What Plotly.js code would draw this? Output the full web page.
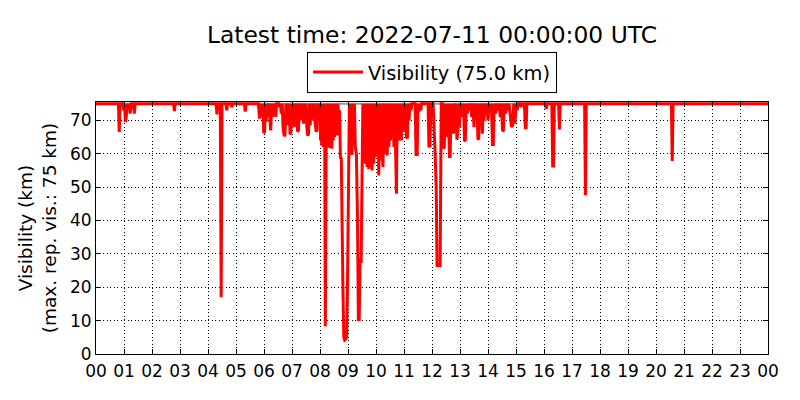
<!DOCTYPE html>
<html>
<head>
<meta charset="utf-8">
<script src="https://cdn.plot.ly/plotly-3.0.1.min.js"></script>
<style>html,body{margin:0;padding:0;background:#fff;}#chart{width:800px;height:400px;}</style>
</head>
<body>
<div id="chart"></div>
<script>
const chartTitle = "Latest time: 2022-07-11 00:00:00 UTC";
const seriesName = "Visibility (75.0 km)";
const maxReportedVis = 75;
const hourTicks = [0,1,2,3,4,5,6,7,8,9,10,11,12,13,14,15,16,17,18,19,20,21,22,23,24];
const hourTickLabels = ["00","01","02","03","04","05","06","07","08","09","10","11","12","13","14","15","16","17","18","19","20","21","22","23","00"];
const visTicks = [0,10,20,30,40,50,60,70];

const timeHours = [
 0.00,0.80,0.83,0.86,0.96,0.99,1.02,1.05,1.08,1.11,1.15,1.18,1.22,1.26,1.34,1.37,1.40,
 2.77,2.80,2.83,4.29,4.32,4.35,4.44,4.47,4.50,4.64,4.67,4.70,4.82,4.85,4.88,5.30,5.33,5.36,5.80,
 5.84,5.88,5.92,5.96,5.99,6.02,6.05,6.08,6.11,6.14,6.17,6.21,6.24,6.27,6.30,6.33,6.36,6.39,6.42,6.45,6.52,6.55,6.58,6.62,6.65,6.68,6.72,6.75,6.78,6.81,6.84,6.87,6.90,6.93,6.96,6.99,
 7.02,7.05,7.08,7.11,7.14,7.17,7.20,7.23,7.26,7.29,7.32,7.35,7.38,7.41,7.44,7.47,7.50,7.53,7.56,7.59,7.62,7.65,7.68,7.71,7.74,7.77,7.80,7.83,7.86,7.89,7.92,7.95,7.98,
 8.00,8.02,8.04,8.06,8.09,8.11,8.14,8.17,8.19,8.22,8.25,8.27,8.30,8.32,8.35,8.37,8.40,8.42,8.45,8.47,8.50,8.52,8.55,8.58,8.61,8.64,8.67,8.70,8.73,8.76,8.79,8.82,8.85,8.88,8.92,8.95,8.98,9.01,9.05,
 9.08,9.11,9.14,9.17,9.20,9.23,9.26,9.30,9.34,9.37,9.40,9.43,9.47,9.50,9.53,9.56,9.59,9.62,9.65,9.68,9.71,9.74,9.77,9.80,9.83,9.86,9.89,9.92,9.95,9.98,10.01,
 10.04,10.07,10.10,10.13,10.16,10.19,10.22,10.25,10.28,10.31,10.34,10.37,10.40,10.43,10.46,10.49,10.52,10.55,10.58,10.61,10.64,10.67,10.70,10.73,10.76,10.79,10.82,10.85,10.88,10.91,10.94,10.97,11.00,
 11.03,11.06,11.09,11.12,11.15,11.18,11.21,11.25,11.28,11.40,11.43,11.47,11.50,11.53,11.57,11.60,11.63,11.86,11.89,11.93,11.96,12.04,12.08,12.12,12.15,12.18,12.24,12.29,12.33,
 12.38,12.41,12.44,12.47,12.50,12.53,12.56,12.59,12.62,12.65,12.68,12.71,12.74,12.77,12.80,12.83,12.86,12.89,12.92,12.95,12.98,13.01,13.04,13.07,13.10,13.13,13.16,13.19,13.22,13.26,13.30,13.34,13.38,13.42,13.46,
 13.50,13.53,13.57,13.60,13.64,13.67,13.70,13.73,13.76,13.80,13.83,13.86,13.89,13.93,13.96,14.00,14.03,14.08,14.12,14.16,14.19,14.22,14.27,14.31,14.36,14.40,14.44,14.48,
 14.52,14.55,14.58,14.63,14.67,14.71,14.75,14.80,14.84,14.88,14.92,14.96,15.00,15.04,15.08,15.15,15.18,15.21,15.30,15.33,15.36,15.39,
 16.05,16.08,16.11,16.28,16.31,16.34,16.37,16.52,16.55,16.58,17.45,17.48,17.51,20.55,20.58,20.61,24.00
];
const visKm = [
 75,75,66.5,75,75,73,75,69.5,71,75,73,75,72,75,75,72,75,
 75,72.8,75,75,71.8,75,75,17,75,75,73,75,75,74,75,75,72.6,75,75,
 70.5,75,71,75,66.2,66.5,75,69.5,75,72,75,70,67,75,71,75,72,75,71,75,75,74,75,72,75,68,65.3,65.6,75,69,75,68.5,75,65.8,66.5,75,
 70,75,68,75,69,75,66.6,67,75,70,75,71,75,69,75,72,75,68,65.4,66,75,68.5,75,70,75,72,75,69,66.6,67,75,72,75,
 75,64,75,62.5,75,62,75,61.5,8.3,61.5,75,62,75,61.8,75,62.5,75,61.5,75,64,75,65,75,72,65.5,75,70,73,58.6,59,30,19,5,4.2,4.5,5,20,52.6,75,
 62.6,75,59.6,75,62.6,75,62,60,40,10.3,10.3,28.2,28,50.6,75,58,75,57,75,56,75,55.4,75,56,75,55,75,57,75,59,75,
 64,75,53.5,75,58,75,60,56,75,60,75,62,59.5,75,62,75,64,75,66,75,62,75,60,48,75,64,75,64,75,64,75,68,75,
 66.5,75,65,64.6,75,70,75,73,75,75,59.8,59.8,75,72.5,75,73,75,75,62.3,62.3,75,75,68,58,50,26.5,26.5,26.5,75,
 75,61.6,62,75,65,75,66,75,59.2,59.2,75,66,75,66,75,68,75,64.2,66,75,68,75,72,75,71,75,64,63.8,75,72,75,73,75,71,75,
 68,75,72,75,64.5,64.3,75,69,75,66,75,70,75,72,75,70,75,72.5,75,62.8,62.8,75,72,75,73,75,71,75,
 66.8,67,75,72,75,73,75,71,68,68.5,75,69,75,73,75,75,74,75,75,67.8,67.8,75,
 75,73.5,75,75,56.3,56.3,75,75,67.3,75,75,47.6,75,75,57.8,75,75
];

const FONT = "DejaVu Sans, Verdana, sans-serif";

const traces = [{
  x: timeHours,
  y: visKm,
  type: "scatter",
  mode: "lines",
  name: seriesName,
  line: {color: "#ff0000", width: 3},
  hoverinfo: "skip"
}];

const axisCommon = {
  showline: true, linecolor: "#000", linewidth: 1, mirror: "ticks",
  ticks: "inside", ticklen: 5, tickwidth: 1, tickcolor: "#000",
  showgrid: true, gridcolor: "#000", gridwidth: 1, griddash: "1px,2.5px",
  zeroline: false, tickfont: {family: FONT, size: 17, color: "#000"}
};

const layout = {
  width: 800, height: 400,
  paper_bgcolor: "#fff", plot_bgcolor: "#fff",
  margin: {l: 96, r: 32, t: 102, b: 46},
  font: {family: FONT, color: "#000"},
  title: {text: chartTitle, font: {family: FONT, size: 23.4, color: "#000"},
          x: 0.5, xref: "paper", xanchor: "center", y: 0.9125, yref: "container", yanchor: "middle"},
  showlegend: true,
  legend: {x: 0.5, xanchor: "center", y: 1.199, yanchor: "top", orientation: "h",
           bordercolor: "#000", borderwidth: 1, bgcolor: "#fff",
           font: {family: FONT, size: 19.4, color: "#000"}, itemwidth: 50},
  xaxis: Object.assign({}, axisCommon, {
    range: [0, 24], tickmode: "array", tickvals: hourTicks, ticktext: hourTickLabels,
    ticklabelstandoff: 2
  }),
  yaxis: Object.assign({}, axisCommon, {
    range: [0, 75.5], tickmode: "array", tickvals: visTicks,
    title: {text: "Visibility (km)<br>(max. rep. vis.: " + maxReportedVis + " km)",
            font: {family: FONT, size: 18.5, color: "#000"}, standoff: 8}
  }),
  shapes: [{type: "line", xref: "paper", x0: 0, x1: 1, yref: "y", y0: maxReportedVis, y1: maxReportedVis,
            line: {color: "#999", width: 2}, layer: "below"}]
};

Plotly.newPlot("chart", traces, layout, {staticPlot: true, displayModeBar: false});
</script>
</body>
</html>
